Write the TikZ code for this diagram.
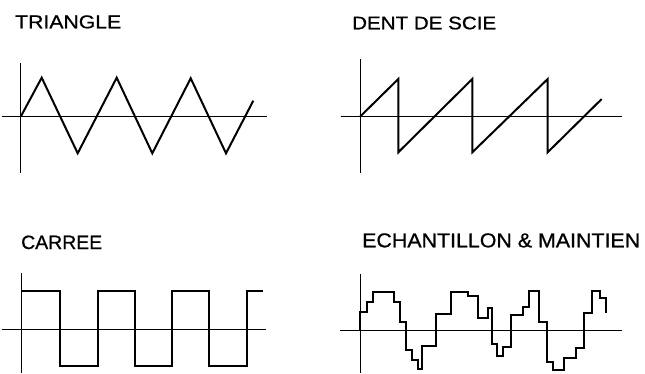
\documentclass[tikz,border=0pt]{standalone}
\usepackage{fontspec}
\setmainfont{Liberation Sans}
\newfontfamily\labelfont[FakeBold=0.8]{Liberation Sans}
\usepackage{graphicx}
\begin{document}
\begin{tikzpicture}[x=1pt,y=-1pt,
  axis/.style={line width=0.9pt},
  wave/.style={line width=2pt, line join=miter},
  lbl/.style={anchor=base west, inner sep=0pt, font=\labelfont\fontsize{18}{20}\selectfont}]
\useasboundingbox (0,0) rectangle (645,373);
% labels
\node[lbl] (ttri) at (15,28.3) {\resizebox{106pt}{13pt}{TRIANGLE}};
\node[lbl] (tsaw) at (352,29.3) {\resizebox{144pt}{12.7pt}{DENT DE SCIE}};
\node[lbl] (tsq) at (21,249) {\resizebox{81pt}{13.5pt}{CARREE}};
\node[lbl] (tsh) at (362,247.3) {\resizebox{278pt}{14pt}{ECHANTILLON \& MAINTIEN}};
% triangle
\draw[axis] (20.7,63) -- (20.7,173);
\draw[axis] (1.7,116.7) -- (266.7,116.7);
\draw[wave] (20.7,116.7) -- (41.7,77.7) -- (77.7,153.3) -- (116.7,77.7) -- (152.3,153.3)
  -- (190.7,78.3) -- (226,153.3) -- (253.3,100.7);
% sawtooth
\draw[axis] (360,59.3) -- (360,173.3);
\draw[axis] (340.7,116.7) -- (621.7,116.7);
\draw[wave] (360,116.7) -- (398.3,79) -- (398.3,152.3) -- (472.3,79) -- (472.3,152.3)
  -- (547.7,79) -- (547.7,152.3) -- (601.7,99);
% square
\draw[axis] (21.7,273.3) -- (21.7,373);
\draw[axis] (1.7,329.3) -- (266,329.3);
\draw[wave] (21.7,291) -- (60,291) -- (60,365.7) -- (97.7,365.7) -- (97.7,291) -- (135,291)
  -- (135,365.7) -- (171.7,365.7) -- (171.7,291) -- (209.3,291) -- (209.3,365.7)
  -- (246.7,365.7) -- (246.7,291) -- (263.3,291);
% sample and hold
\draw[axis] (360,274) -- (360,373);
\draw[axis] (340,330) -- (621.7,330);
\draw[wave] (360,330) -- (360,311.7) -- (366.7,311.7) -- (366.7,302) -- (373.3,302)
  -- (373.3,292.3) -- (394,292.3) -- (394,302) -- (400,302) -- (400,321.7)
  -- (405.5,321.7) -- (405.5,350) -- (411.5,350) -- (411.5,359.5) -- (418.3,359.5)
  -- (418.3,369.3) -- (422,369.3) -- (422,345.5) -- (436,345.5) -- (436,314)
  -- (451,314) -- (451,291.5) -- (467.5,291.5) -- (467.5,296) -- (478,296)
  -- (478,318.3) -- (488.3,318.3) -- (488.3,308) -- (492,308) -- (492,344)
  -- (496.7,344) -- (496.7,356) -- (503,356) -- (503,347) -- (511,347)
  -- (511,314.5) -- (522.7,314.5) -- (522.7,307) -- (528.7,307) -- (528.7,291)
  -- (539,291) -- (539,321.7) -- (546.7,321.7) -- (546.7,362) -- (553,362)
  -- (553,370) -- (564,370) -- (564,358.3) -- (576.3,358.3) -- (576.3,348.3)
  -- (584,348.3) -- (584,313.3) -- (592,313.3) -- (592,291) -- (600,291)
  -- (600,297.5) -- (606,297.5) -- (606,313.3);
\end{tikzpicture}
\end{document}
